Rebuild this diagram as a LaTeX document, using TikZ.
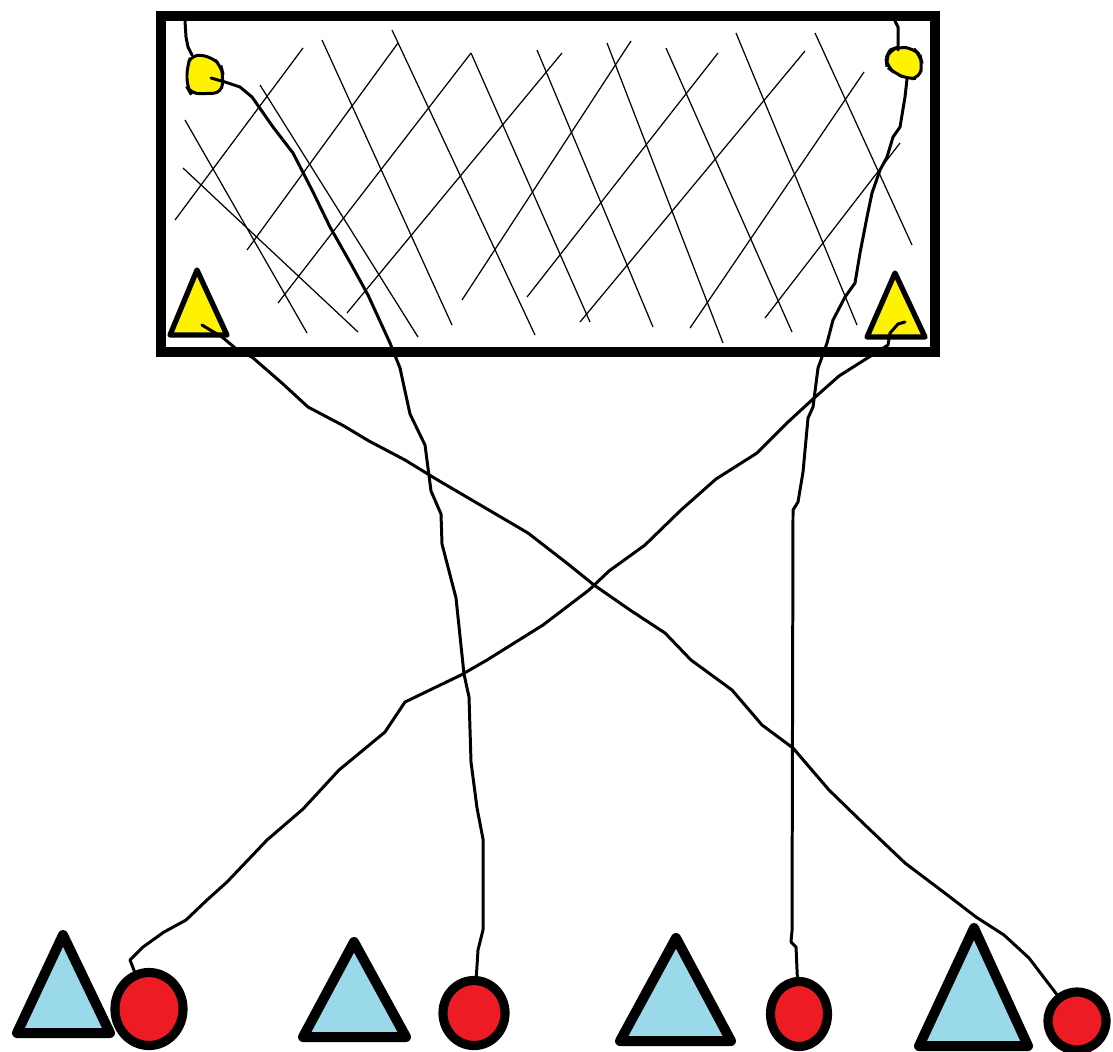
\documentclass[tikz,border=0pt]{standalone}
\usepackage{xcolor}
\usepackage{tikz}
\usetikzlibrary{shapes.geometric}
\definecolor{PaintYellow}{HTML}{FFF200}
\definecolor{PaintRed}{HTML}{ED1C24}
\definecolor{PaintBlue}{HTML}{99D9EA}
\tikzset{
  hatchline/.style={line width=0.35pt},
  framebox/.style={line width=2.85pt},
  wire/.style={line width=0.85pt,line join=round,line cap=round},
  blob/.style={draw,fill=PaintYellow,line width=0.85pt,rounded corners=2.5pt},
  yellowtri/.style={draw,fill=PaintYellow,line width=1.5pt,line join=round},
  bluetri/.style={draw,fill=PaintBlue,line width=2.85pt,line join=round},
  redball/.style={ellipse,draw,fill=PaintRed,line width=2.6pt,inner sep=0pt}
}

\begin{document}
\begin{tikzpicture}[x=0.01cm,y=-0.01cm]
\path[use as bounding box] (0,0) rectangle (1113,1051);
\foreach \xa/\ya/\xb/\yb in {185/120/307/333,183/168/358/332,260/85/418/337,322/40/452/325,392/30/535/335,471/53/590/322,537/50/653/327,607/43/723/343,666/48/792/332,736/33/857/325,815/33/912/245}
  \draw[hatchline] (\xa,\ya) -- (\xb,\yb);
\foreach \xa/\ya/\xb/\yb in {175/220/303/48,247/250/398/43,278/303/471/53,347/313/562/53,462/300/631/41,527/297/718/53,580/322/805/51,690/328/864/72,765/318/900/143}
  \draw[hatchline] (\xa,\ya) -- (\xb,\yb);
\draw[framebox] (161,16) rectangle (935,352);
\draw[yellowtri] (170,335) -- (197,270) -- (227,335) -- cycle;
\draw[yellowtri] (867,337) -- (895,273) -- (925,337) -- cycle;
\draw[blob] (192,54) -- (212,57) -- (221,66) -- (223,74) -- (222,93) -- (191,94) -- (187,87) -- (187,66) -- cycle;
\draw[blob] (890,50) -- (898,47) -- (913,48) -- (920,55) -- (922,63) -- (920,78) -- (907,79) -- (895,73) -- (887,67) -- (886,58) -- cycle;
\coordinate (tltop) at (185,21);
\coordinate (tlneck) at (192,55);
\coordinate (tlblob) at (211,78);
\coordinate (trtop) at (895,21);
\coordinate (trneck) at (898,50);
\coordinate (trblob) at (907,79);
\coordinate (tltri) at (202,325);
\coordinate (trtri) at (905,322);
\draw[bluetri] (17,1033) -- (63,935) -- (110,1033) -- cycle;
\draw[bluetri] (303,1037) -- (354,942) -- (406,1037) -- cycle;
\draw[bluetri] (620,1041) -- (676,938) -- (731,1041) -- cycle;
\draw[bluetri] (919,1046) -- (974,928) -- (1028,1046) -- cycle;
\node[redball,minimum width=0.68cm,minimum height=0.73cm] (ball1) at (149,1009) {};
\node[redball,minimum width=0.62cm,minimum height=0.65cm] (ball2) at (474,1013) {};
\node[redball,minimum width=0.57cm,minimum height=0.65cm] (ball3) at (799,1014) {};
\node[redball,minimum width=0.58cm,minimum height=0.58cm] (ball4) at (1077,1021) {};
\draw[wire] (tltop) -- (186,37) -- (188,47) -- (tlneck);
\draw[wire] (trtop) -- (898,27) -- (trneck);
\draw[wire] (tlblob) -- (225,82) -- (240,87) -- (252,97) -- (273,127) -- (293,153) -- (313,192) -- (330,227) -- (351,264) -- (368,295) -- (390,343) -- (400,368) -- (410,414) -- (425,445) -- (431,491) -- (441,514) -- (442,544) -- (456,598) -- (464,674) -- (469,697) -- (471,762) -- (477,808) -- (483,839) -- (483,930) -- (478,950) -- (ball2);
\draw[wire] (trblob) -- (905,97) -- (900,127) -- (893,137) -- (887,157) -- (880,170) -- (872,193) -- (867,217) -- (860,253) -- (855,283) -- (845,297) -- (833,320) -- (827,343) -- (818,368) -- (813,407) -- (808,418) -- (803,472) -- (798,502) -- (793,510) -- (792,931) -- (791,942) -- (796,947) -- (ball3);
\draw[wire] (tltri) -- (222,337) -- (240,352) -- (252,357) -- (283,384) -- (308,407) -- (344,426) -- (369,441) -- (405,460) -- (436,479) -- (482,506) -- (528,533) -- (568,564) -- (594,585) -- (630,610) -- (665,633) -- (691,660) -- (732,690) -- (762,725) -- (793,748) -- (829,790) -- (864,824) -- (905,863) -- (950,897) -- (976,917) -- (1004,935) -- (1029,958) -- (ball4);
\draw[wire] (trtri) -- (898,324) -- (890,333) -- (888,345) -- (869,357) -- (839,376) -- (813,399) -- (788,422) -- (757,453) -- (716,479) -- (681,510) -- (645,545) -- (609,571) -- (589,590) -- (543,625) -- (487,660) -- (461,675) -- (405,702) -- (385,732) -- (339,770) -- (303,809) -- (267,840) -- (227,882) -- (207,900) -- (186,920) -- (164,932) -- (143,947) -- (130,960) -- (ball1);
\end{tikzpicture}
\end{document}
